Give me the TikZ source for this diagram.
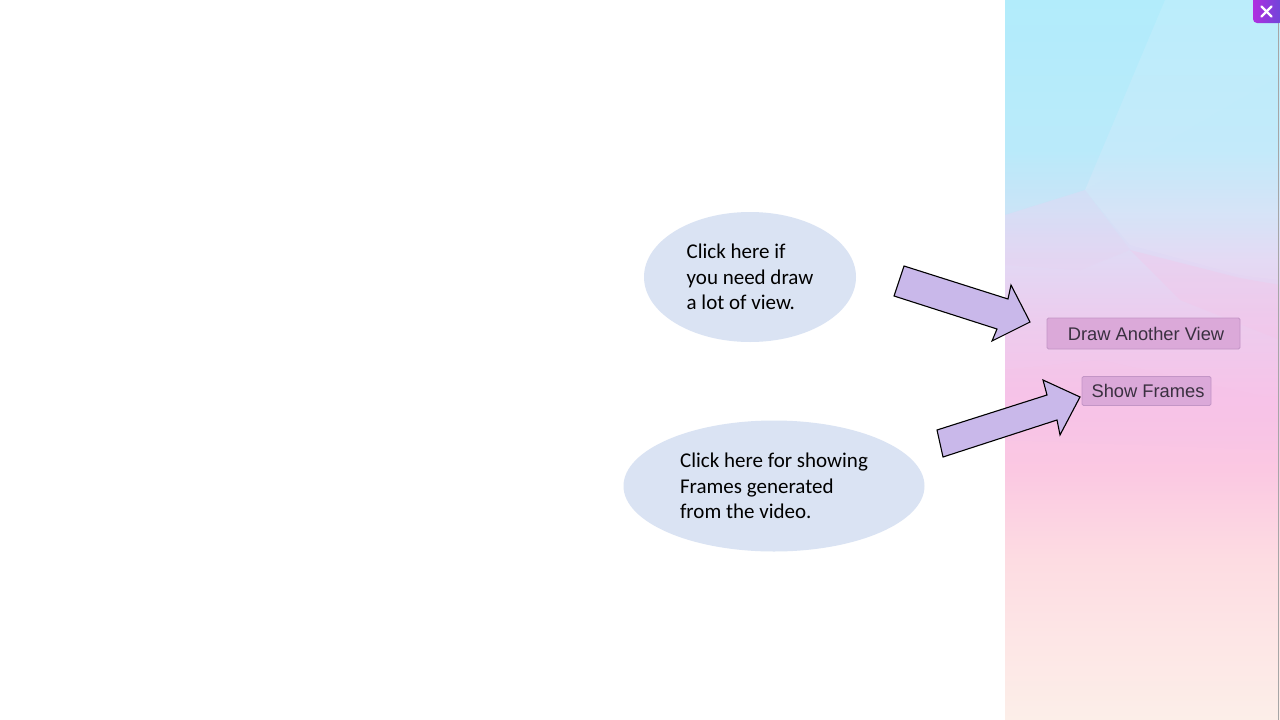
\documentclass[tikz,border=0pt]{standalone}
\usepackage{fontspec}
\usetikzlibrary{shapes.geometric}
\newfontfamily\calibrifont{Carlito}
\newfontfamily\arialfont{Liberation Sans}
\definecolor{pA}{HTML}{B6ECFB}
\definecolor{pB}{HTML}{BFE9FA}
\definecolor{pC}{HTML}{D2E2F7}
\definecolor{pD}{HTML}{E2D8F4}
\definecolor{pE}{HTML}{ECCCEE}
\definecolor{pF}{HTML}{F7C3E8}
\definecolor{pG}{HTML}{FBC8E2}
\definecolor{pH}{HTML}{FDDCE2}
\definecolor{pI}{HTML}{FDE6E6}
\definecolor{pJ}{HTML}{FCEEE8}
\definecolor{bubble}{HTML}{DAE3F3}
\definecolor{arrowfill}{HTML}{C9B8EA}
\definecolor{btnfill}{HTML}{DBA9D9}
\definecolor{btnborder}{HTML}{C395C6}
\definecolor{btntext}{HTML}{3A3040}
\definecolor{closeL}{HTML}{B02FE0}
\definecolor{closeR}{HTML}{6A48D8}
\pgfdeclareverticalshading{panelshade}{100bp}{%
color(0bp)=(pJ); color(25bp)=(pJ); color(30.56bp)=(pI); color(36.11bp)=(pH);
color(42.36bp)=(pG); color(47.22bp)=(pF); color(52.78bp)=(pE); color(56.94bp)=(pD);
color(60.42bp)=(pC); color(64.58bp)=(pB); color(75bp)=(pA); color(100bp)=(pA)}
\tikzset{
  bubblenode/.style={ellipse, fill=bubble, draw=none, inner sep=0pt, align=left,
    font=\calibrifont\fontsize{21}{25.3}\selectfont, text=black},
  blockarrow/.style={fill=arrowfill, draw=black, line width=1.1pt, line join=miter},
  btn/.style={rectangle, rounded corners=1.5pt, fill=btnfill, draw=btnborder, line width=0.9pt,
    inner sep=0pt, font=\arialfont\fontsize{18.3}{20}\selectfont, text=btntext},
}
\begin{document}
\begin{tikzpicture}[x=1pt,y=-1pt]
\useasboundingbox (0,0) rectangle (1280,720);
\fill[white] (0,0) rectangle (1280,720);
% right panel background
\shade[shading=panelshade] (1005,0) rectangle (1280,720);
\fill[pA!80!cyan!90!white, opacity=0.15] (1005,0) -- (1165,0) -- (1085,190) -- (1005,215) -- cycle;
\fill[white, opacity=0.08] (1165,0) -- (1280,0) -- (1280,75) -- (1085,190) -- cycle;
\fill[white, opacity=0.07] (1085,190) -- (1280,75) -- (1280,280) -- (1240,275) -- (1130,245) -- cycle;
\fill[pE, opacity=0.18] (1005,215) -- (1085,190) -- (1130,250) -- (1080,270) -- (1005,265) -- cycle;
\fill[pF, opacity=0.3] (1130,250) -- (1240,278) -- (1280,285) -- (1280,340) -- (1180,300) -- cycle;
\fill[pF, opacity=0.2] (1005,370) -- (1100,360) -- (1280,400) -- (1280,450) -- (1005,440) -- cycle;
\draw[gray!70, line width=0.8pt] (1278.5,0) -- (1278.5,720);
% close button
\shade[left color=closeL, right color=closeR, rounded corners=4pt] (1253,-6) rectangle (1283,23);
\draw[white, line width=2.2pt, line cap=round] (1261.5,6.5) -- (1271.5,16.5);
\draw[white, line width=2.2pt, line cap=round] (1271.5,6.5) -- (1261.5,16.5);
% bubbles
\node[bubblenode, minimum width=212pt, minimum height=130pt] (b1) at (750,277)
  {Click here\ if\\you need draw\\a lot of view.};
\node[bubblenode, minimum width=301pt, minimum height=131pt] (b2) at (774,486)
  {Click here\ for showing\\Frames generated\\from the video.};
% buttons
\node[btn, minimum width=193pt, minimum height=31pt] (draw) at (1143.5,333.5) {\hspace*{5pt}Draw Another View};
\node[btn, minimum width=129pt, minimum height=29pt] (frames) at (1146.5,391) {\hspace*{3pt}Show Frames};
% block arrows
\draw[blockarrow] (904,266) -- (1008,299) -- (1011,285) -- (1030,322) -- (992,341) -- (997,329) -- (894,296) -- cycle;
\draw[blockarrow] (937,430) -- (1047,395) -- (1043,380) -- (1080,397) -- (1060,435) -- (1057,420) -- (943,457) -- cycle;
\end{tikzpicture}
\end{document}
